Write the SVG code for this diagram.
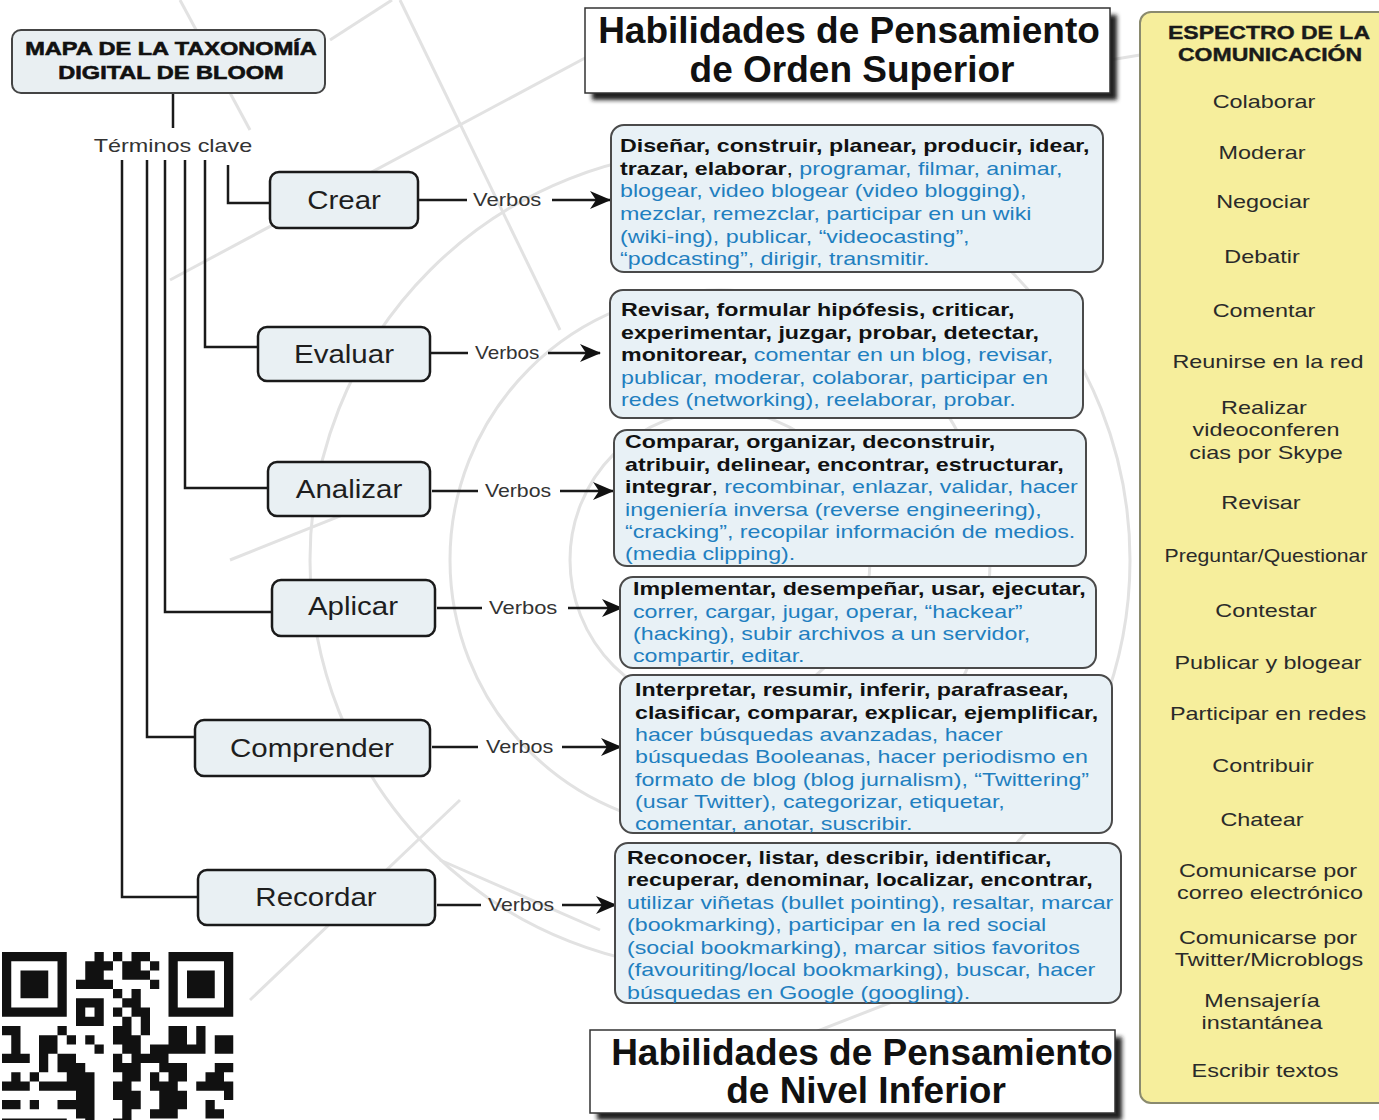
<svg xmlns="http://www.w3.org/2000/svg" width="1379" height="1120" viewBox="0 0 1379 1120">
<defs>
<style>
text{font-family:"Liberation Sans",Arial,sans-serif;}
.bg{fill:none;stroke:#e2e2e2;stroke-width:3}
.wire{fill:none;stroke:#1a1a1a;stroke-width:2.5}
.arr{fill:none;stroke:#1a1a1a;stroke-width:2.5;marker-end:url(#ah)}
.nrect{fill:#e9f0f3;stroke:#1a1a1a;stroke-width:2.5}
.vrect{fill:#e8f1f6;stroke:#4a4a4a;stroke-width:2}
.nlab{font-size:25px;fill:#1e1e1e;text-anchor:middle}
.vb{font-size:18px;fill:#333}
.vt{font-size:18px}
.b{font-weight:bold;fill:#111}
.u{fill:#1f7fc0}
.title{font-size:37px;font-weight:bold;fill:#111;text-anchor:middle}
.sp{font-size:18px;fill:#2a2a2a;text-anchor:middle}
.sph{font-size:18px;font-weight:bold;fill:#1a1a1a;text-anchor:middle;stroke:#1a1a1a;stroke-width:0.4}
</style>
<marker id="ah" markerUnits="userSpaceOnUse" markerWidth="24" markerHeight="20" refX="20" refY="9" orient="auto">
<path d="M0,0 L21,9 L0,18 L6,9 z" fill="#111"/>
</marker>
<filter id="sh" x="-5%" y="-20%" width="115%" height="150%"><feGaussianBlur stdDeviation="2"/></filter>
</defs>
<rect width="1379" height="1120" fill="#ffffff"/>
<g id="background">
<path class="bg" d="M400,0 L560,330"/>
<path class="bg" d="M170,280 L600,50"/>
<path class="bg" d="M330,40 L392,0"/>
<path class="bg" d="M180,0 L250,130"/>
<path class="bg" d="M1110,60 L1140,55"/>
<path class="bg" d="M640,1100 L1000,960"/>
<path class="bg" d="M440,860 L600,930"/>
<path class="bg" d="M250,1000 L460,800"/>
<path class="bg" d="M230,560 L430,480"/>
<circle class="bg" cx="720" cy="560" r="150"/>
<circle class="bg" cx="720" cy="560" r="270"/>
<circle class="bg" cx="720" cy="560" r="410"/>
</g>
<g id="qr">
<rect x="0" y="944" width="242" height="176" fill="#ffffff"/>
<path fill="#111" transform="translate(2,952) scale(9.25)" d="M0 0h7v1h-7z M10 0h1v1h-1z M12 0h1v1h-1z M14 0h2v1h-2z M18 0h7v1h-7z
M0 1h1v1h-1z M6 1h1v1h-1z M9 1h3v1h-3z M13 1h2v1h-2z M16 1h1v1h-1z M18 1h1v1h-1z M24 1h1v1h-1z
M0 2h1v1h-1z M2 2h3v1h-3z M6 2h1v1h-1z M9 2h2v1h-2z M13 2h3v1h-3z M18 2h1v1h-1z M20 2h3v1h-3z M24 2h1v1h-1z
M0 3h1v1h-1z M2 3h3v1h-3z M6 3h1v1h-1z M8 3h4v1h-4z M16 3h1v1h-1z M18 3h1v1h-1z M20 3h3v1h-3z M24 3h1v1h-1z
M0 4h1v1h-1z M2 4h3v1h-3z M6 4h1v1h-1z M12 4h1v1h-1z M14 4h1v1h-1z M18 4h1v1h-1z M20 4h3v1h-3z M24 4h1v1h-1z
M0 5h1v1h-1z M6 5h1v1h-1z M8 5h3v1h-3z M13 5h2v1h-2z M18 5h1v1h-1z M24 5h1v1h-1z
M0 6h7v1h-7z M8 6h1v1h-1z M10 6h1v1h-1z M12 6h1v1h-1z M14 6h2v1h-2z M18 6h7v1h-7z
M8 7h3v1h-3z M13 7h1v1h-1z M15 7h1v1h-1z
M0 8h2v1h-2z M6 8h1v1h-1z M12 8h2v1h-2z M15 8h1v1h-1z M18 8h2v1h-2z M21 8h1v1h-1z
M1 9h1v1h-1z M4 9h2v1h-2z M7 9h1v1h-1z M9 9h1v1h-1z M12 9h3v1h-3z M18 9h2v1h-2z M21 9h1v1h-1z M23 9h2v1h-2z
M1 10h1v1h-1z M4 10h2v1h-2z M10 10h1v1h-1z M13 10h2v1h-2z M16 10h6v1h-6z M23 10h2v1h-2z
M0 11h3v1h-3z M4 11h1v1h-1z M6 11h2v1h-2z M12 11h1v1h-1z M14 11h4v1h-4z
M4 12h1v1h-1z M6 12h3v1h-3z M12 12h3v1h-3z M17 12h3v1h-3z M23 12h2v1h-2z
M1 13h1v1h-1z M3 13h1v1h-1z M7 13h3v1h-3z M13 13h2v1h-2z M16 13h1v1h-1z M18 13h2v1h-2z M22 13h2v1h-2z
M0 14h3v1h-3z M4 14h6v1h-6z M12 14h2v1h-2z M16 14h3v1h-3z M21 14h4v1h-4z
M8 15h2v1h-2z M12 15h3v1h-3z M17 15h3v1h-3z M24 15h1v1h-1z
M0 16h2v1h-2z M3 16h1v1h-1z M6 16h4v1h-4z M13 16h2v1h-2z M17 16h3v1h-3z M22 16h1v1h-1z
M8 17h2v1h-2z M13 17h1v1h-1z M16 17h3v1h-3z M22 17h2v1h-2z
M0 18h7v1h-7z M9 18h1v1h-1z M12 18h2v1h-2z"/>
</g>
<g id="connectors">
<path class="wire" d="M173,93 V128"/>
<path class="wire" d="M228,165 V203 H270"/>
<path class="wire" d="M205,160 V347 H258"/>
<path class="wire" d="M185,160 V488 H268"/>
<path class="wire" d="M165,160 V612 H272"/>
<path class="wire" d="M147,160 V737 H195"/>
<path class="wire" d="M122,160 V897 H198"/>
<path class="wire" d="M418,200 H467"/>
<path class="arr" d="M552,200 H610"/>
<path class="wire" d="M430,353 H468"/>
<path class="arr" d="M548,353 H600"/>
<path class="wire" d="M432,491 H478"/>
<path class="arr" d="M560,491 H613"/>
<path class="wire" d="M437,608 H482"/>
<path class="arr" d="M568,608 H622"/>
<path class="wire" d="M432,747 H478"/>
<path class="arr" d="M562,747 H621"/>
<path class="wire" d="M437,905 H481"/>
<path class="arr" d="M562,905 H616"/>
<g class="vb">
<text transform="translate(473,206) scale(1.22,1)">Verbos</text>
<text transform="translate(475,359) scale(1.15,1)">Verbos</text>
<text transform="translate(485,497) scale(1.18,1)">Verbos</text>
<text transform="translate(489,614) scale(1.22,1)">Verbos</text>
<text transform="translate(486,753) scale(1.2,1)">Verbos</text>
<text transform="translate(488,911) scale(1.18,1)">Verbos</text>
</g>
</g>
<g id="title-map">
<rect x="12" y="30" width="313" height="63" rx="9" fill="#e9eff2" stroke="#444" stroke-width="2"/>
<text transform="translate(171,55) scale(1.24,1)" font-size="19" font-weight="bold" fill="#111" stroke="#111" stroke-width="0.6" text-anchor="middle">MAPA DE LA TAXONOMÍA</text>
<text transform="translate(171,79) scale(1.24,1)" font-size="19" font-weight="bold" fill="#111" stroke="#111" stroke-width="0.6" text-anchor="middle">DIGITAL DE BLOOM</text>
</g>
<g id="terminos">
<text transform="translate(173,152) scale(1.3,1)" font-size="18" fill="#333" text-anchor="middle">Términos clave</text>
</g>
<g id="node-crear"><rect class="nrect" x="270" y="172" width="148" height="56" rx="9"/><text class="nlab" transform="translate(344,209) scale(1.18,1)">Crear</text></g>
<g id="node-evaluar"><rect class="nrect" x="258" y="327" width="172" height="54" rx="9"/><text class="nlab" transform="translate(344,363) scale(1.18,1)">Evaluar</text></g>
<g id="node-analizar"><rect class="nrect" x="268" y="462" width="162" height="54" rx="9"/><text class="nlab" transform="translate(349,498) scale(1.18,1)">Analizar</text></g>
<g id="node-aplicar"><rect class="nrect" x="272" y="580" width="163" height="56" rx="9"/><text class="nlab" transform="translate(353,615) scale(1.18,1)">Aplicar</text></g>
<g id="node-comprender"><rect class="nrect" x="195" y="720" width="235" height="56" rx="9"/><text class="nlab" transform="translate(312,757) scale(1.18,1)">Comprender</text></g>
<g id="node-recordar"><rect class="nrect" x="198" y="870" width="237" height="55" rx="9"/><text class="nlab" transform="translate(316,906) scale(1.18,1)">Recordar</text></g>
<g id="title-superior">
<rect x="592" y="15" width="525" height="85" fill="#222" filter="url(#sh)"/>
<rect x="585" y="8" width="525" height="85" fill="#fff" stroke="#333" stroke-width="1.5"/>
<text class="title" x="849" y="43">Habilidades de Pensamiento</text>
<text class="title" x="852" y="82">de Orden Superior</text>
</g>
<g id="verbs-crear">
<rect class="vrect" x="611" y="125" width="492" height="147" rx="13"/>
<g class="vt" transform="translate(620,0) scale(1.29,1)">
<text y="152"><tspan class="b">Diseñar, construir, planear, producir, idear,</tspan></text>
<text y="175"><tspan class="b">trazar, elaborar</tspan><tspan fill="#111">, </tspan><tspan class="u">programar, filmar, animar,</tspan></text>
<text y="197" class="u">blogear, video blogear (video blogging),</text>
<text y="220" class="u">mezclar, remezclar, participar en un wiki</text>
<text y="243" class="u">(wiki-ing), publicar, “videocasting”,</text>
<text y="265" class="u">“podcasting”, dirigir, transmitir.</text>
</g>
</g>
<g id="verbs-evaluar">
<rect class="vrect" x="610" y="290" width="473" height="128" rx="13"/>
<g class="vt" transform="translate(621,0) scale(1.29,1)">
<text y="316"><tspan class="b">Revisar, formular hipófesis, criticar,</tspan></text>
<text y="339"><tspan class="b">experimentar, juzgar, probar, detectar,</tspan></text>
<text y="361"><tspan class="b">monitorear,</tspan><tspan class="u"> comentar en un blog, revisar,</tspan></text>
<text y="384" class="u">publicar, moderar, colaborar, participar en</text>
<text y="406" class="u">redes (networking), reelaborar, probar.</text>
</g>
</g>
<g id="verbs-analizar">
<rect class="vrect" x="614" y="430" width="472" height="136" rx="13"/>
<g class="vt" transform="translate(625,0) scale(1.29,1)">
<text y="448"><tspan class="b">Comparar, organizar, deconstruir,</tspan></text>
<text y="471"><tspan class="b">atribuir, delinear, encontrar, estructurar,</tspan></text>
<text y="493"><tspan class="b">integrar</tspan><tspan fill="#111">, </tspan><tspan class="u">recombinar, enlazar, validar, hacer</tspan></text>
<text y="516" class="u">ingeniería inversa (reverse engineering),</text>
<text y="538" class="u">“cracking”, recopilar información de medios.</text>
<text y="560" class="u">(media clipping).</text>
</g>
</g>
<g id="verbs-aplicar">
<rect class="vrect" x="620" y="577" width="476" height="91" rx="13"/>
<g class="vt" transform="translate(633,0) scale(1.29,1)">
<text y="595"><tspan class="b">Implementar, desempeñar, usar, ejecutar,</tspan></text>
<text y="618" class="u">correr, cargar, jugar, operar, “hackear”</text>
<text y="640" class="u">(hacking), subir archivos a un servidor,</text>
<text y="662" class="u">compartir, editar.</text>
</g>
</g>
<g id="verbs-comprender">
<rect class="vrect" x="620" y="675" width="492" height="158" rx="13"/>
<g class="vt" transform="translate(635,0) scale(1.29,1)">
<text y="696"><tspan class="b">Interpretar, resumir, inferir, parafrasear,</tspan></text>
<text y="719"><tspan class="b">clasificar, comparar, explicar, ejemplificar,</tspan></text>
<text y="741" class="u">hacer búsquedas avanzadas, hacer</text>
<text y="763" class="u">búsquedas Booleanas, hacer periodismo en</text>
<text y="786" class="u">formato de blog (blog jurnalism), “Twittering”</text>
<text y="808" class="u">(usar Twitter), categorizar, etiquetar,</text>
<text y="830" class="u">comentar, anotar, suscribir.</text>
</g>
</g>
<g id="verbs-recordar">
<rect class="vrect" x="615" y="843" width="506" height="160" rx="13"/>
<g class="vt" transform="translate(627,0) scale(1.29,1)">
<text y="864"><tspan class="b">Reconocer, listar, describir, identificar,</tspan></text>
<text y="886"><tspan class="b">recuperar, denominar, localizar, encontrar,</tspan></text>
<text y="909" class="u">utilizar viñetas (bullet pointing), resaltar, marcar</text>
<text y="931" class="u">(bookmarking), participar en la red social</text>
<text y="954" class="u">(social bookmarking), marcar sitios favoritos</text>
<text y="976" class="u">(favouriting/local bookmarking), buscar, hacer</text>
<text y="999" class="u">búsquedas en Google (googling).</text>
</g>
</g>
<g id="title-inferior">
<rect x="597" y="1037" width="525" height="83" fill="#222" filter="url(#sh)"/>
<rect x="590" y="1030" width="525" height="83" fill="#fff" stroke="#333" stroke-width="1.5"/>
<text class="title" x="862" y="1065">Habilidades de Pensamiento</text>
<text class="title" x="866" y="1103">de Nivel Inferior</text>
</g>
<g id="espectro">
<rect x="1140" y="12" width="270" height="1091" rx="11" fill="#f6ee9c" stroke="#8a8a6e" stroke-width="2"/>
<text class="sph" transform="translate(1269,39) scale(1.28,1)">ESPECTRO DE LA</text>
<text class="sph" transform="translate(1270,61) scale(1.28,1)">COMUNICACIÓN</text>
<text class="sp" transform="translate(1264,108) scale(1.3,1)">Colaborar</text>
<text class="sp" transform="translate(1262,159) scale(1.3,1)">Moderar</text>
<text class="sp" transform="translate(1263,208) scale(1.3,1)">Negociar</text>
<text class="sp" transform="translate(1262,263) scale(1.3,1)">Debatir</text>
<text class="sp" transform="translate(1264,317) scale(1.3,1)">Comentar</text>
<text class="sp" transform="translate(1268,368) scale(1.3,1)">Reunirse en la red</text>
<text class="sp" transform="translate(1264,414) scale(1.3,1)">Realizar</text>
<text class="sp" transform="translate(1266,436) scale(1.3,1)">videoconferen</text>
<text class="sp" transform="translate(1266,459) scale(1.3,1)">cias por Skype</text>
<text class="sp" transform="translate(1261,509) scale(1.3,1)">Revisar</text>
<text class="sp" transform="translate(1266,562) scale(1.18,1)">Preguntar/Questionar</text>
<text class="sp" transform="translate(1266,617) scale(1.3,1)">Contestar</text>
<text class="sp" transform="translate(1268,669) scale(1.3,1)">Publicar y blogear</text>
<text class="sp" transform="translate(1268,720) scale(1.3,1)">Participar en redes</text>
<text class="sp" transform="translate(1263,772) scale(1.3,1)">Contribuir</text>
<text class="sp" transform="translate(1262,826) scale(1.3,1)">Chatear</text>
<text class="sp" transform="translate(1268,877) scale(1.3,1)">Comunicarse por</text>
<text class="sp" transform="translate(1270,899) scale(1.3,1)">correo electrónico</text>
<text class="sp" transform="translate(1268,944) scale(1.3,1)">Comunicarse por</text>
<text class="sp" transform="translate(1269,966) scale(1.3,1)">Twitter/Microblogs</text>
<text class="sp" transform="translate(1262,1007) scale(1.3,1)">Mensajería</text>
<text class="sp" transform="translate(1262,1029) scale(1.3,1)">instantánea</text>
<text class="sp" transform="translate(1265,1077) scale(1.3,1)">Escribir textos</text>
</g>
</svg>
